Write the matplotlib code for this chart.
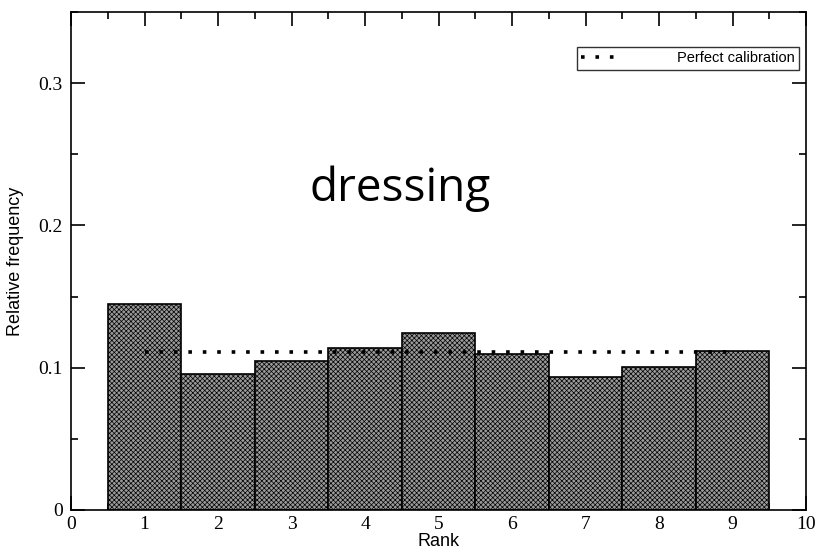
import numpy as np
import matplotlib.pyplot as plt
from matplotlib.ticker import MultipleLocator

plt.rcParams['hatch.linewidth'] = 0.5
plt.rcParams['hatch.color'] = '#2a2a2a'

ranks = [1, 2, 3, 4, 5, 6, 7, 8, 9]
freqs = [0.145, 0.0958, 0.105, 0.1136, 0.1244, 0.1099, 0.0932, 0.1005, 0.112]
perfect_x = [1, 9]
perfect_y = [1 / 9, 1 / 9]

fig = plt.figure(figsize=(8.2, 5.59), dpi=100)
ax = fig.add_axes([0.0866, 0.0877, 0.8964, 0.8908])

ax.bar(ranks, freqs, width=1.0, color='#9a9a9a', edgecolor='black',
       linewidth=1.2, hatch='xxxxxxx', zorder=2)
ax.plot(perfect_x, perfect_y, color='black', linewidth=2.6,
        linestyle=(0, (1, 3.0)), dash_capstyle='butt', zorder=3,
        label='Perfect calibration')

ax.set_xlim(0, 10)
ax.set_ylim(0, 0.35)
ax.xaxis.set_major_locator(MultipleLocator(1))
ax.xaxis.set_minor_locator(MultipleLocator(0.5))
ax.yaxis.set_major_locator(MultipleLocator(0.1))
ax.yaxis.set_minor_locator(MultipleLocator(0.05))
ax.yaxis.set_major_formatter(plt.FuncFormatter(lambda v, p: '0' if v == 0 else f'{v:.1f}'))
ax.tick_params(which='both', direction='in', top=True, right=True, width=1.2)
ax.tick_params(which='major', length=10, pad=4)
ax.tick_params(axis='y', which='major', pad=6)
ax.tick_params(which='minor', length=5)
for lab in ax.get_xticklabels() + ax.get_yticklabels():
    lab.set_family('Liberation Serif')
    lab.set_fontsize(14)
for s in ax.spines.values():
    s.set_linewidth(1.2)

ax.set_xlabel('Rank', family='Liberation Sans', fontsize=13, labelpad=0)
ax.set_ylabel('Relative frequency', family='Liberation Sans', fontsize=13, labelpad=10)

ax.text(0.448, 0.645, 'dressing', transform=ax.transAxes, ha='center', va='center',
        fontsize=33, family='Open Sans')

leg = ax.legend(loc='upper right', bbox_to_anchor=(0.991, 0.93), borderaxespad=0,
                fontsize=10.5, frameon=True, fancybox=False, edgecolor='black',
                handlelength=2.6, borderpad=0.3, handletextpad=4.0)
leg.get_frame().set_linewidth(1.0)
for t in leg.get_texts():
    t.set_family('Liberation Sans')

fig.savefig('out.png', dpi=100)
